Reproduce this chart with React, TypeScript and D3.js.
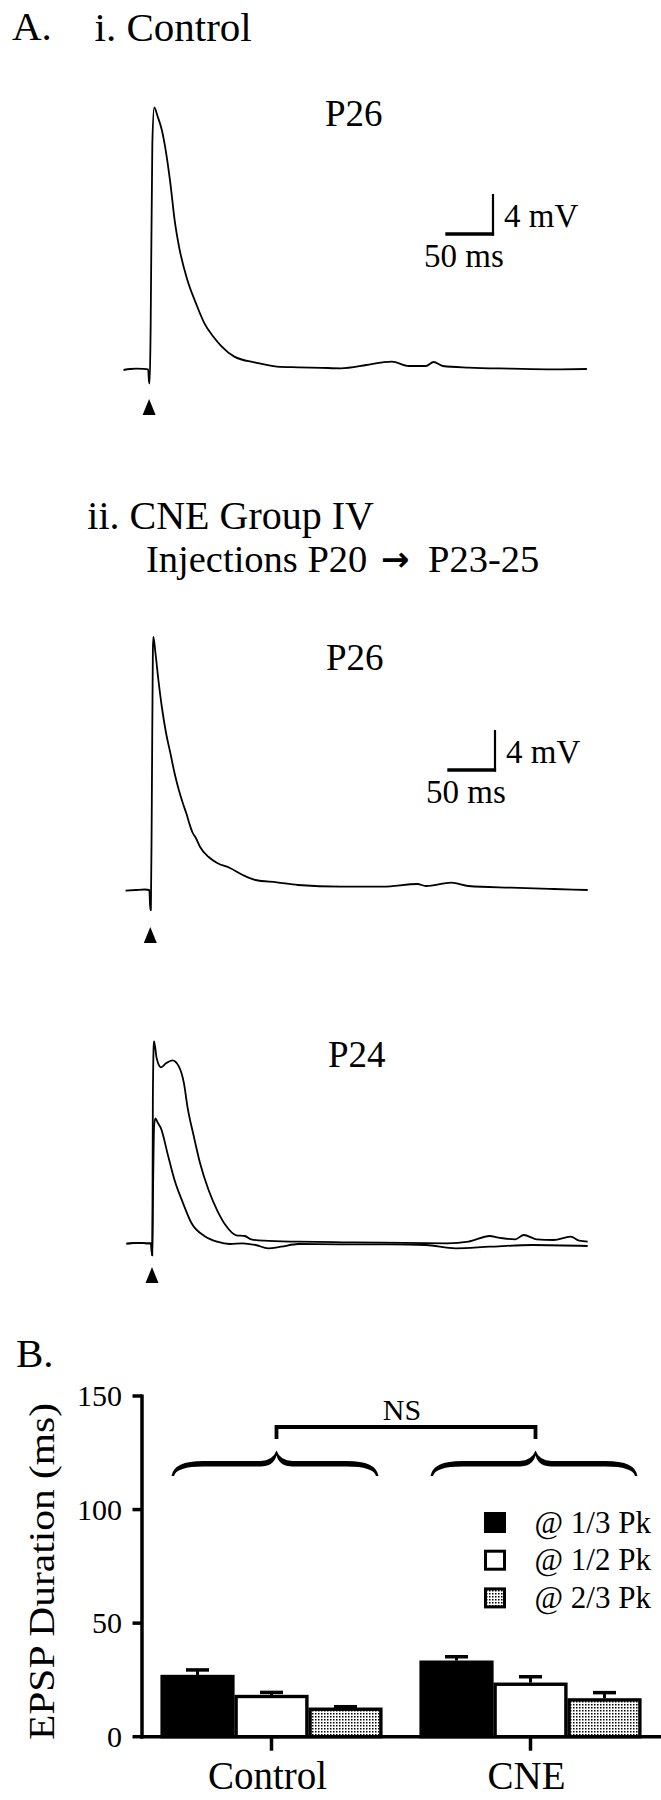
import React from 'react';
import * as d3 from 'd3';

// ---------- Panel A data: membrane potential traces (time in ms after stimulus, mV above baseline) ----------
const ctrlP26Time = [-26.8, -20, -13.4, -6, -1.0, 0, 0.6, 1.6, 3.4, 5.4, 8.9, 13.4, 17.9, 22.3, 26.8, 31.3, 40.2, 49.1, 58.0, 67.0, 75.9, 89.3, 111.6, 133.9, 156.3, 180, 200.9, 227.7, 245, 254.5, 272.3, 290.2, 298.2, 308.0, 334.8, 379.5, 424.1, 458.9];
const ctrlP26mV = [-0.07, 0.03, 0.07, 0.05, 0, -1.4, -1.4, 4.0, 22.6, 26.2, 25.3, 23.9, 21.6, 18.6, 14.9, 12.3, 8.9, 6.6, 4.6, 3.3, 2.3, 1.27, 0.67, 0.27, 0.2, 0.15, 0.1, 0.43, 0.7, 0.77, 0.33, 0.33, 0.73, 0.33, 0.17, 0.07, 0, 0.03];

const cneP26Time = [-25.9, -15, -6, -1.0, 0, 0.6, 1.6, 2.7, 3.2, 5.4, 8.5, 12.1, 16.5, 21.0, 25.4, 29.9, 34.4, 38, 41.1, 44, 47.8, 52.2, 61.2, 70.1, 83.5, 96.9, 110.3, 132.6, 154.9, 199.6, 244.2, 279.9, 288.8, 315.6, 333.5, 378.1, 422.8, 458.5];
const cneP26mV = [-0.07, 0, 0.05, 0, -2.0, -2.0, 9, 24, 25.3, 23.7, 21, 18.3, 15.7, 13.7, 11.7, 10, 8.6, 7.6, 6.6, 5.8, 5.2, 4.3, 3.3, 2.7, 2.2, 1.5, 1.0, 0.77, 0.5, 0.33, 0.33, 0.6, 0.4, 0.73, 0.4, 0.23, 0.1, 0];

const cneP24aTime = [-26.8, -15, -3.1, -0.9, 0, 0.3, 0.9, 1.8, 2.2, 4.9, 9.4, 14.7, 21.4, 28.1, 33.5, 37.1, 43.8, 50.4, 59.4, 68.3, 77.2, 88.4, 97.3, 104.0, 117.4, 153.1, 200, 242.4, 309.4, 331.7, 354.0, 363.0, 380.8, 389.7, 403.1, 421.0, 438.8, 447.8, 456.7];
const cneP24amV = [-0.04, 0.05, 0, 0, -1.2, -1.2, 14.3, 19.8, 20.2, 18.5, 17.6, 18.0, 18.3, 17.7, 16.0, 13.7, 10.7, 8.0, 5.3, 3.3, 1.8, 0.8, 0.73, 0.4, 0.26, 0.16, 0.1, 0.06, 0, 0.16, 0.73, 0.56, 0.4, 0.83, 0.4, 0.33, 0.66, 0.26, 0.16];

const cneP24bTime = [-26.8, -15, -3.1, -0.9, 0, 0.3, 1.2, 2.2, 3.6, 5.8, 9.4, 17.0, 23.7, 32.6, 41.5, 54.9, 68.3, 81.7, 95.1, 108.5, 121.9, 135.3, 153.1, 197.8, 250, 287.1, 318.3, 354.0, 398.7, 456.7];
const cneP24bmV = [-0.04, 0.05, 0, 0, -1.2, -1.2, 6, 11.8, 12.5, 12.1, 11.5, 8.7, 6.3, 4.0, 2.0, 0.73, 0.16, -0.07, 0, -0.17, -0.5, -0.34, -0.07, -0.1, -0.1, -0.17, -0.5, -0.34, -0.17, -0.27];

const scaleBarMs = 50;
const scaleBarMV = 4;

// ---------- Panel B data ----------
const groups = ['Control', 'CNE'];
const seriesLabels = ['@ 1/3 Pk', '@ 1/2 Pk', '@ 2/3 Pk'];
const controlMeans = [27.2, 18.4, 12.8];
const controlSEM = [2.2, 1.1, 0.4];
const cneMeans = [33.5, 23.8, 16.9];
const cneSEM = [1.7, 2.6, 2.5];
const yTicks = [0, 50, 100, 150];

const FONT = "'Liberation Serif', 'Times New Roman', Times, serif";

type Pt = { t: number; v: number };
const zip = (ts: number[], vs: number[]): Pt[] => ts.map((t, i) => ({ t, v: vs[i] }));

function Trace({ stimX, baseY, traces, label, labelX, labelY, bar, arrowTop }: any) {
  const x = d3.scaleLinear().domain([0, scaleBarMs]).range([stimX, stimX + 47.7]);
  const y = d3.scaleLinear().domain([0, scaleBarMV]).range([baseY, baseY - 40]);
  const line = d3.line<Pt>().x(d => x(d.t)).y(d => y(d.v)).curve(d3.curveMonotoneX);
  const ax = x(0);
  return (
    <g>
      {traces.map((tr: Pt[], i: number) => (
        <path key={i} d={line(tr) || ''} fill="none" stroke="#000" strokeWidth={1.8} strokeLinejoin="round" />
      ))}
      <path d={`M${ax},${arrowTop} L${ax + 6.5},${arrowTop + 16} L${ax - 6.5},${arrowTop + 16} Z`} fill="#000" />
      <text x={labelX} y={labelY} fontFamily={FONT} fontSize={37} fill="#000">{label}</text>
      {bar && (
        <g>
          <line x1={bar.x} x2={bar.x} y1={bar.y + 1.5} y2={bar.y - (y(0) - y(scaleBarMV))} stroke="#000" strokeWidth={2.2} />
          <line x1={bar.x - (x(scaleBarMs) - x(0))} x2={bar.x + 1.1} y1={bar.y} y2={bar.y} stroke="#000" strokeWidth={3.5} />
          <text x={bar.x + 11} y={bar.y - 7} fontFamily={FONT} fontSize={33} fill="#000">{`${scaleBarMV} mV`}</text>
          <text x={bar.x - 69} y={bar.y + 33} fontFamily={FONT} fontSize={33} fill="#000">{`${scaleBarMs} ms`}</text>
        </g>
      )}
    </g>
  );
}

function brace(x1: number, xm: number, x2: number, yEnd: number, yTop: number, yCusp: number) {
  const t = 5.5;
  return [
    `M${x1},${yEnd}`,
    `Q${x1 + 2},${yTop} ${x1 + 32},${yTop}`,
    `L${xm - 16},${yTop}`,
    `Q${xm - 4},${yTop} ${xm},${yCusp}`,
    `Q${xm + 4},${yTop} ${xm + 16},${yTop}`,
    `L${x2 - 32},${yTop}`,
    `Q${x2 - 2},${yTop} ${x2},${yEnd}`,
    `L${x2 - 2.5},${yEnd}`,
    `Q${x2 - 5},${yTop + t} ${x2 - 32},${yTop + t}`,
    `L${xm + 16},${yTop + t}`,
    `Q${xm + 3},${yTop + t} ${xm},${yCusp + 5}`,
    `Q${xm - 3},${yTop + t} ${xm - 16},${yTop + t}`,
    `L${x1 + 32},${yTop + t}`,
    `Q${x1 + 5},${yTop + t} ${x1 + 2.5},${yEnd}`,
    'Z',
  ].join(' ');
}

function BarChart() {
  const x0 = d3.scaleBand<string>().domain(groups).range([142, 660]).paddingInner(0.143).paddingOuter(0.0715);
  const x1 = d3.scaleBand<string>().domain(seriesLabels).range([0, x0.bandwidth()]);
  const y = d3.scaleLinear().domain([0, 150]).range([1736.7, 1396]);
  const means = [controlMeans, cneMeans];
  const sems = [controlSEM, cneSEM];
  const fills = ['#000', '#fff', 'url(#stipple)'];
  const axisX = 142;
  const cusp = groups.map(g => (x0(g) as number) + x0.bandwidth() / 2 + 5);
  return (
    <g>
      <text x={16} y={1366.7} fontFamily={FONT} fontSize={41} fill="#000">B.</text>
      {groups.map((g, gi) => (
        <g key={g}>
          {seriesLabels.map((s, si) => {
            const bx = (x0(g) as number) + (x1(s) as number);
            const bw = x1.bandwidth();
            const top = y(means[gi][si]);
            const errTop = y(means[gi][si] + sems[gi][si]);
            const cx = bx + bw / 2;
            return (
              <g key={s}>
                <line x1={cx} x2={cx} y1={top} y2={errTop} stroke="#000" strokeWidth={3} />
                <line x1={cx - 11.5} x2={cx + 11.5} y1={errTop} y2={errTop} stroke="#000" strokeWidth={3.5} />
                <rect x={bx + 1.6} y={top + 1.6} width={bw - 3.2} height={y(0) - top - 1.6} fill={fills[si]} stroke="#000" strokeWidth={3.4} />
              </g>
            );
          })}
        </g>
      ))}
      <line x1={axisX} x2={axisX} y1={y(150) - 1.5} y2={y(0) + 1.7} stroke="#000" strokeWidth={3.5} />
      <line x1={axisX - 1.7} x2={661} y1={y(0)} y2={y(0)} stroke="#000" strokeWidth={3.5} />
      {yTicks.map(t => (
        <g key={t}>
          <line x1={132.5} x2={axisX} y1={y(t)} y2={y(t)} stroke="#000" strokeWidth={3.5} />
          <text x={122} y={y(t)} dy="0.34em" textAnchor="end" fontFamily={FONT} fontSize={30} fill="#000">{t}</text>
        </g>
      ))}
      {groups.map((g) => {
        const cx = (x0(g) as number) + x0.bandwidth() / 2;
        return (
          <g key={g}>
            <line x1={cx} x2={cx} y1={y(0)} y2={y(0) + 14} stroke="#000" strokeWidth={3.5} />
            <text x={cx - 4} y={1789} textAnchor="middle" fontFamily={FONT} fontSize={39} fill="#000">{g}</text>
          </g>
        );
      })}
      <text transform={`translate(53.5,1571.5) rotate(-90)`} textAnchor="middle" fontFamily={FONT} fontSize={35} textLength={337} lengthAdjust="spacingAndGlyphs" fill="#000">EPSP Duration (ms)</text>
      {groups.map((g, gi) => {
        const bx = x0(g) as number;
        return <path key={g} d={brace(bx + 11, cusp[gi], bx + x0.bandwidth() - 4, 1476, 1461, 1450.5)} fill="#000" />;
      })}
      <path d={`M${cusp[0]},1439 L${cusp[0]},1427 L${cusp[1]},1427 L${cusp[1]},1439`} fill="none" stroke="#000" strokeWidth={3.8} />
      <text x={(cusp[0] + cusp[1]) / 2 - 4} y={1420} textAnchor="middle" fontFamily={FONT} fontSize={30} fill="#000">NS</text>
      {seriesLabels.map((s, si) => {
        const ly = 1512 + si * 37.7;
        return (
          <g key={s}>
            <rect x={485.5} y={ly + 1.5} width={19} height={18} fill={fills[si]} stroke="#000" strokeWidth={si === 0 ? 0 : 3} />
            {si === 0 && <rect x={484} y={ly} width={22} height={21} fill="#000" />}
            <text x={534.5} y={ly + 20.5} fontFamily={FONT} fontSize={31} fill="#000">{s}</text>
          </g>
        );
      })}
    </g>
  );
}

export default function App() {
  return (
    <svg width={661} height={1800} viewBox="0 0 661 1800" style={{ position: 'absolute', left: 0, top: 0, background: '#fff' }}>
      <defs>
        <pattern id="stipple" width={3} height={3} patternUnits="userSpaceOnUse">
          <rect width={3} height={3} fill="#fff" />
          <rect width={1.5} height={1.5} fill="#000" />
        </pattern>
      </defs>
      <rect width={661} height={1800} fill="#fff" />
      <text x={12} y={40} fontFamily={FONT} fontSize={41} fill="#000">A.</text>
      <text x={94.5} y={40.5} fontFamily={FONT} fontSize={41} fill="#000">i. Control</text>
      <Trace stimX={149.1} baseY={369.3} traces={[zip(ctrlP26Time, ctrlP26mV)]} label="P26" labelX={325} labelY={126}
        bar={{ x: 493, y: 234 }} arrowTop={399} />
      <text x={87.3} y={528.5} fontFamily={FONT} fontSize={40} fill="#000">ii. CNE Group IV</text>
      <text y={572} fontFamily={FONT} fontSize={38.5} fill="#000">
        <tspan x={146}>Injections P20</tspan>
        <tspan x={381} fontFamily="'DejaVu Sans', sans-serif" fontWeight="bold" fontSize={34} dy={-1.5}>→</tspan>
        <tspan x={428} dy={1.5}>P23-25</tspan>
      </text>
      <Trace stimX={150.3} baseY={890} traces={[zip(cneP26Time, cneP26mV)]} label="P26" labelX={326} labelY={670}
        bar={{ x: 495, y: 770 }} arrowTop={927} />
      <Trace stimX={152} baseY={1243.3} traces={[zip(cneP24aTime, cneP24amV), zip(cneP24bTime, cneP24bmV)]} label="P24" labelX={328} labelY={1067.3}
        arrowTop={1267} />
      <BarChart />
    </svg>
  );
}
